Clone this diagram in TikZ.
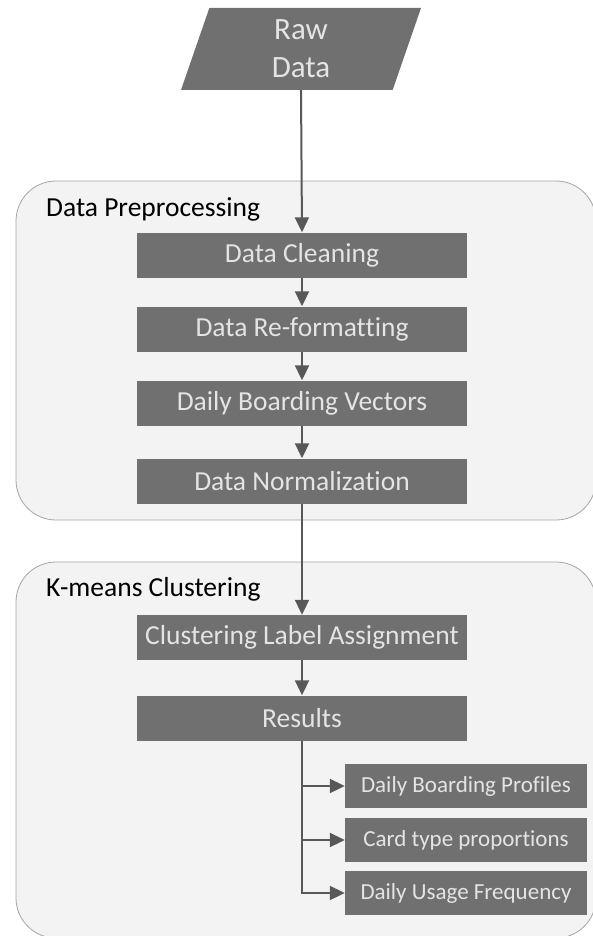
\documentclass[tikz,border=0pt]{standalone}
\usepackage{fontspec}
\setmainfont{Carlito}[Ligatures=NoCommon]
\usetikzlibrary{arrows.meta,shapes.geometric}

\definecolor{boxgray}{RGB}{112,112,112}
\definecolor{boxtext}{RGB}{228,228,228}
\definecolor{groupfill}{RGB}{243,243,243}
\definecolor{groupline}{RGB}{165,165,165}
\definecolor{linegray}{RGB}{88,88,88}

\tikzset{
  procbox/.style={fill=boxgray, text=boxtext, minimum width=330pt, minimum height=45pt,
    inner sep=0pt, font=\fontsize{27.5}{33}\selectfont},
  outbox/.style={procbox, minimum width=242pt, minimum height=44pt,
    font=\fontsize{23}{28}\selectfont},
  group/.style={draw=groupline, fill=groupfill, line width=0.8pt, rounded corners=40pt},
  grouplabel/.style={anchor=west, inner sep=0pt, font=\fontsize{27.5}{33}\selectfont},
  flow/.style={draw=linegray, line width=2pt, -{Triangle[width=14pt,length=15pt]}},
}

\begin{document}
\begin{tikzpicture}[x=1pt, y=-1pt]
    \useasboundingbox (0, 0) rectangle (593, 936);

    % the two stages
    \draw[group] (16, 181) rectangle (596, 520);
    \draw[group] (16, 562) rectangle (596, 938);
    \node[grouplabel] (prepLabel) at (46, 209) {Data Preprocessing};
    \node[grouplabel] (kmLabel) at (46, 589) {K-means Clustering};

    % input
    \node[shape=trapezium, trapezium left angle=64, trapezium right angle=116,
      trapezium stretches body, minimum width=240pt, minimum height=82pt,
      inner sep=0pt, fill=boxgray, text=boxtext, align=center,
      font=\fontsize{31}{38}\selectfont] (raw) at (301, 49) {Raw\\Data};

    % preprocessing steps
    \node[procbox] (clean) at (302, 255) {Data Cleaning};
    \node[procbox] (reform) at (302, 329) {Data Re-formatting};
    \node[procbox] (vectors) at (302, 403) {Daily Boarding Vectors};
    \node[procbox] (norm) at (302, 481) {Data Normalization};

    % clustering
    \node[procbox] (assign) at (302, 637.5) {Clustering Label Assignment};
    \node[procbox] (results) at (302, 718) {Results};

    % outputs
    \node[outbox] (profiles) at (466, 786) {Daily Boarding Profiles};
    \node[outbox] (cardtype) at (466, 840) {Card type proportions};
    \node[outbox] (usage) at (466, 893) {Daily Usage Frequency};

    \draw[flow] (raw.south) -- (clean.north);
    \draw[flow] (clean) -- (reform);
    \draw[flow] (reform) -- (vectors);
    \draw[flow] (vectors) -- (norm);
    \draw[flow] (norm) -- (assign);
    \draw[flow] (assign) -- (results);
    \draw[flow] (results.south) |- (profiles.west);
    \draw[flow] (results.south) |- (cardtype.west);
    \draw[flow] (results.south) |- (usage.west);
\end{tikzpicture}
\end{document}
